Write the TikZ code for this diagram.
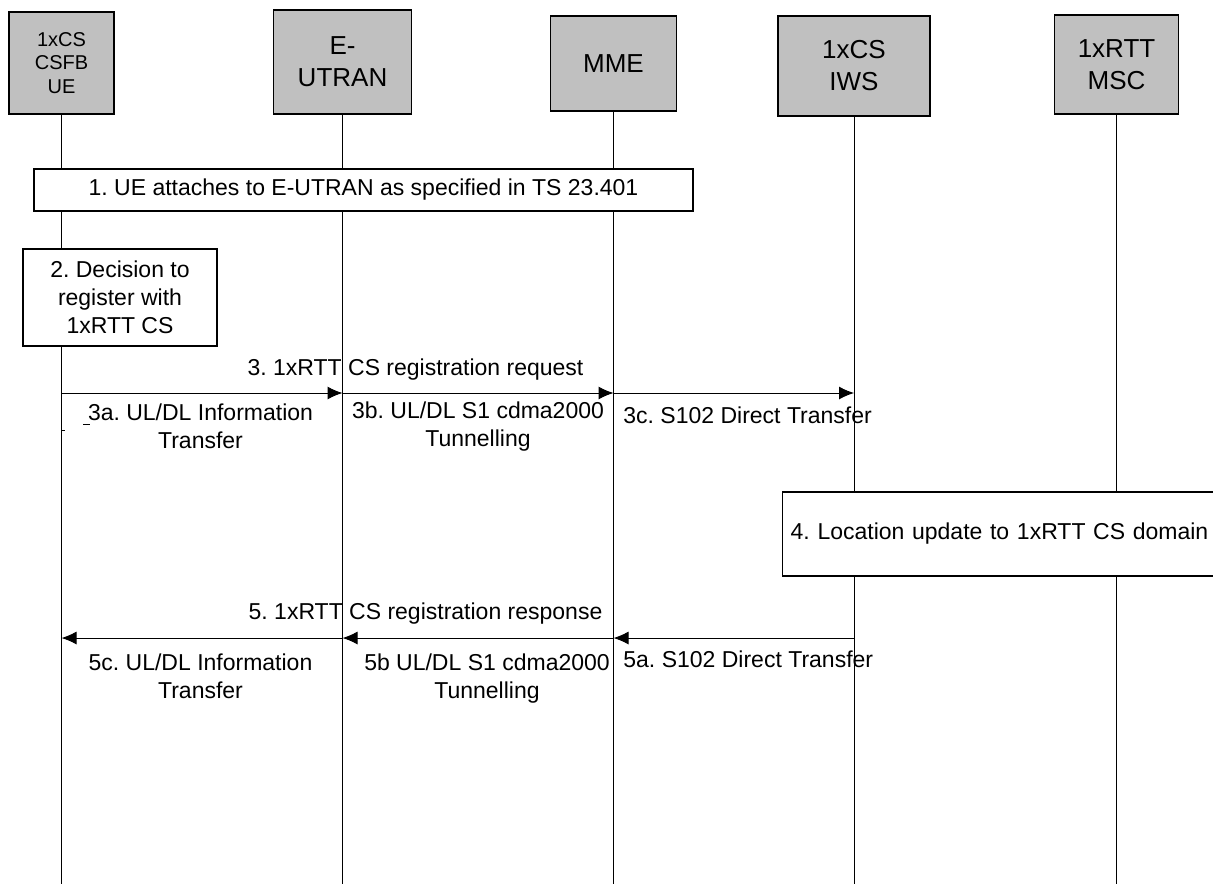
\documentclass[tikz,border=0pt]{standalone}
\usepackage{fontspec}
\setmainfont{Liberation Sans}
\usepackage{xcolor}
\usetikzlibrary{arrows.meta,positioning}

\definecolor{boxgray}{RGB}{192,192,192}

\begin{document}
\frenchspacing
\begin{tikzpicture}[
    x=0.5pt, y=-0.5pt,
    entity/.style={draw, rectangle, fill=boxgray, line width=0.65pt, align=center, inner sep=0pt, font=\fontsize{13}{16}\selectfont},
    notebox/.style={draw, rectangle, fill=white, line width=0.65pt, align=center, inner sep=0pt, font=\fontsize{11.5}{14}\selectfont},
    msgtext/.style={inner sep=0pt, align=center, font=\fontsize{11.5}{14}\selectfont},
    life/.style={line width=0.5pt},
    msg/.style={-{Latex[length=7.5pt,width=6.5pt]}, line width=0.5pt}
]
    \useasboundingbox (0,0) rectangle (1213,884);
    \clip (0,0) rectangle (1213,884);

    \node[entity, minimum width=52.5pt, minimum height=51pt, font=\fontsize{10}{11.8}\selectfont] (ue) at (61.5,63) {1xCS\\CSFB\\UE};
    \node[entity, minimum width=69pt, minimum height=52pt] (eutran) at (342.5,62) {E-\\UTRAN};
    \node[entity, minimum width=63pt, minimum height=47.5pt] (mme) at (613.5,63.5) {MME};
    \node[entity, minimum width=76pt, minimum height=50pt] (iws) at (854,66) {1xCS\\IWS};
    \node[entity, minimum width=62pt, minimum height=49.5pt] (msc) at (1116.5,64.5) {1xRTT\\MSC};

    \coordinate (bottom) at (0,884);
    \foreach \n in {ue,eutran,mme,iws,msc}
        \draw[life] (\n.south) -- (\n.south |- bottom);

    \node[notebox, minimum width=329.5pt, minimum height=21pt] (attach) at (363.5,190) {1. UE attaches to E-UTRAN as specified in TS 23.401};
    \node[notebox, minimum width=97pt, minimum height=48.5pt] (decide) at (120,297.5) {2. Decision to\\register with\\1xRTT CS};
    \node[notebox, anchor=west, text width=212pt, inner xsep=4pt, minimum height=42pt, align=left] (locupd) at (782,534) {4. Location update to 1xRTT CS domain};

    \foreach \n in {ue,eutran,mme,iws} {
        \coordinate (\n3) at (\n.south |- 0,393);
        \coordinate (\n5) at (\n.south |- 0,638);
    }

    \draw[msg] (ue3) -- (eutran3);
    \draw[msg] (eutran3) -- (mme3);
    \draw[msg] (mme3) -- (iws3);

    \node[msgtext] (req) at (415.5,370) {3. 1xRTT CS registration request};
    \node[msgtext] (ulreq) at (200.5,426) {3a. UL/DL Information\\Transfer};
    \node[msgtext] (s1req) at (478,427) {3b. UL/DL S1 cdma2000\\Tunnelling};
    \node[msgtext, anchor=west] (s102req) at (623,415) {3c. S102 Direct Transfer};

    % stray marks
    \draw[life] (83,424) -- (90,424);
    \draw[life] (62,430) -- (64.5,430);

    \draw[msg] (iws5) -- (mme5);
    \draw[msg] (mme5) -- (eutran5);
    \draw[msg] (eutran5) -- (ue5);

    \node[msgtext] (resp) at (425.5,614) {5. 1xRTT CS registration response};
    \node[msgtext] (ulresp) at (200.5,676.5) {5c. UL/DL Information\\Transfer};
    \node[msgtext] (s1resp) at (487,679) {5b UL/DL S1 cdma2000\\Tunnelling};
    \node[msgtext, anchor=west] (s102resp) at (623,659) {5a. S102 Direct Transfer};
\end{tikzpicture}
\end{document}
